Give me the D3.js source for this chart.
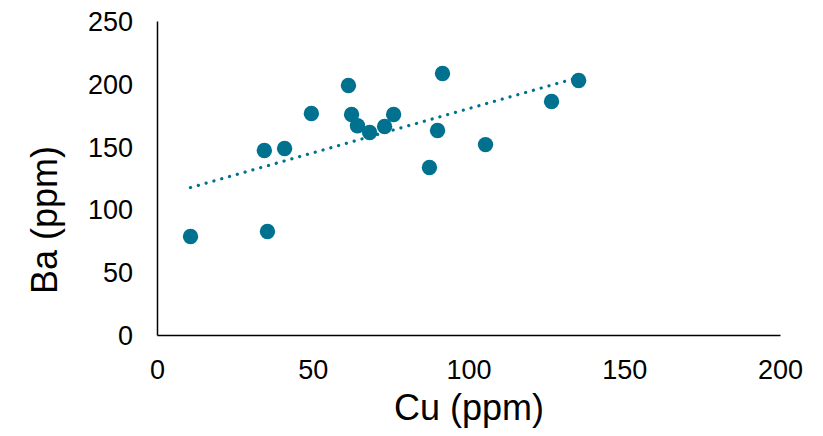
<!DOCTYPE html>
<html lang="en">
<head>
<script src="https://d3js.org/d3.v7.min.js"></script>
<style>
  body { margin: 0; background: #fff; }
  text { font-family: "Liberation Sans", Arial, sans-serif; fill: #000; }
</style>
</head>
<body>
<svg width="823" height="436"></svg>
<script>
// Cu vs Ba, ppm
var cuValues = [10.6, 34.3, 35.3, 40.8, 49.4, 61.3, 62.3, 64.2, 68.1, 72.9, 75.8, 87.3, 89.9, 91.5, 105.3, 126.5, 135.2];
var baValues = [78.8, 147.3, 82.8, 148.9, 176.8, 199, 176, 167, 161.6, 166.4, 176, 133.8, 163.2, 208.6, 152, 186.3, 203];
var xTicks = [0, 50, 100, 150, 200];
var yTicks = [0, 50, 100, 150, 200, 250];

var svg = d3.select("svg");
var color = "#00718f";

var x = d3.scaleLinear().domain([0, 200]).range([157.5, 780.5]);
var y = d3.scaleLinear().domain([0, 250]).range([335.5, 21.5]);

// axes lines
svg.append("line")
   .attr("x1", x(0)).attr("x2", x(200))
   .attr("y1", y(0)).attr("y2", y(0))
   .attr("stroke", "#000").attr("stroke-width", 1.5);
svg.append("line")
   .attr("x1", x(0)).attr("x2", x(0))
   .attr("y1", y(0)).attr("y2", y(250))
   .attr("stroke", "#000").attr("stroke-width", 1.5);

svg.selectAll(".xt")
   .data(xTicks)
   .enter().append("text")
   .attr("x", function(d) { return x(d); })
   .attr("y", 379)
   .attr("text-anchor", "middle")
   .attr("font-size", "27px")
   .text(function(d) { return d; });

svg.selectAll(".yt")
   .data(yTicks)
   .enter().append("text")
   .attr("x", 133)
   .attr("y", function(d) { return y(d) + 9.5; })
   .attr("text-anchor", "end")
   .attr("font-size", "27px")
   .text(function(d) { return d; });

svg.append("text")
   .attr("x", 469)
   .attr("y", 420)
   .attr("text-anchor", "middle")
   .attr("font-size", "36px")
   .text("Cu (ppm)");

svg.append("text")
   .attr("transform", "translate(57,220) rotate(-90)")
   .attr("text-anchor", "middle")
   .attr("font-size", "36px")
   .text("Ba (ppm)");

// linear trendline (least squares)
var pts = cuValues.map(function(c, i) { return [c, baValues[i]]; });
var mx = d3.mean(cuValues), my = d3.mean(baValues);
var sxy = d3.sum(pts, function(p) { return (p[0] - mx) * (p[1] - my); });
var sxx = d3.sum(pts, function(p) { return (p[0] - mx) * (p[0] - mx); });
var slope = sxy / sxx, icpt = my - slope * mx;
var x0 = d3.min(cuValues), x1 = d3.max(cuValues);

svg.append("line")
   .attr("x1", x(x0)).attr("y1", y(icpt + slope * x0))
   .attr("x2", x(x1)).attr("y2", y(icpt + slope * x1))
   .attr("stroke", color)
   .attr("stroke-width", 3.2)
   .attr("stroke-linecap", "round")
   .attr("stroke-dasharray", "0.1 8");

svg.selectAll(".dot")
   .data(pts)
   .enter().append("circle")
   .attr("cx", function(d) { return x(d[0]); })
   .attr("cy", function(d) { return y(d[1]); })
   .attr("r", 7.7)
   .attr("fill", color);
</script>
</body>
</html>
